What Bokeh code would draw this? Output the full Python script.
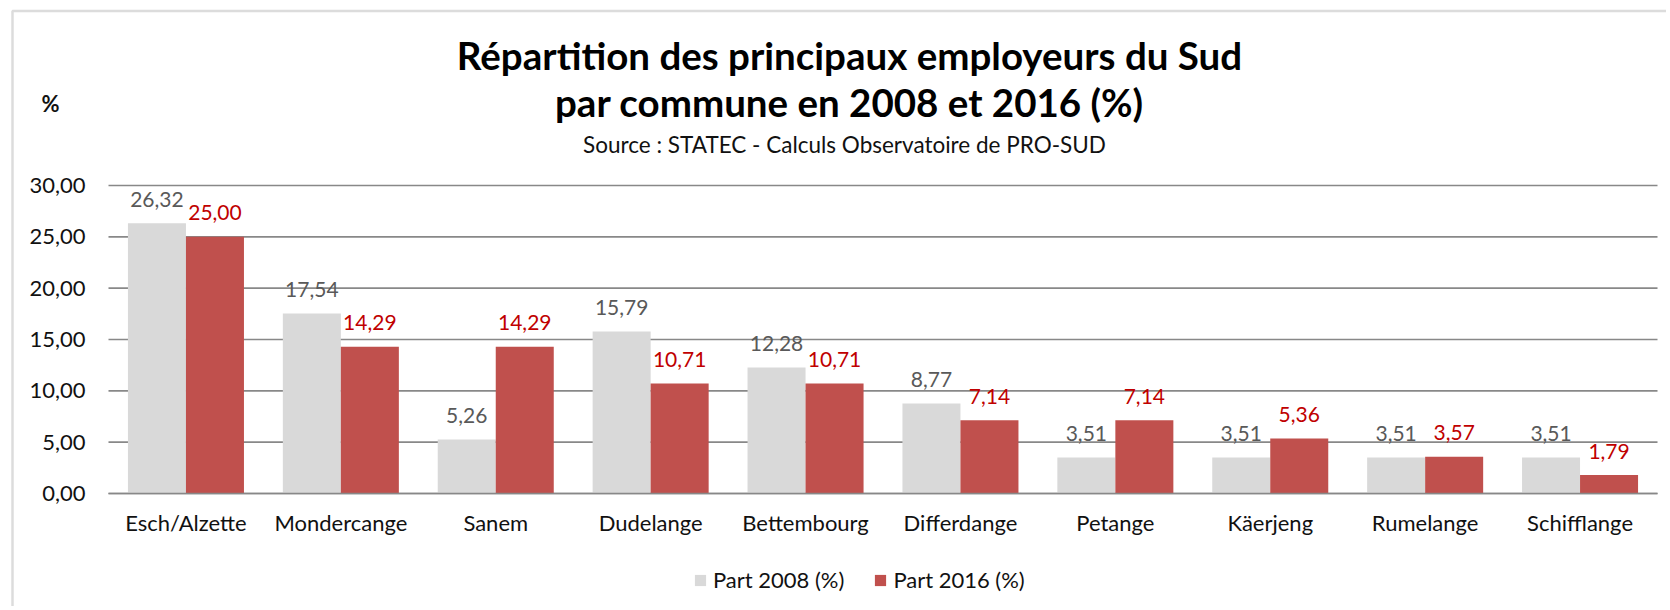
from bokeh.plotting import figure
from bokeh.models import (ColumnDataSource, Range1d, LabelSet, Label, LinearAxis,
                          Legend, LegendItem, FixedTicker, BoxAnnotation)
from bokeh.core.properties import value
from bokeh.transform import dodge
from bokeh.embed import file_html
from bokeh.resources import INLINE

communes = ["Esch/Alzette", "Mondercange", "Sanem", "Dudelange", "Bettembourg",
            "Differdange", "Petange", "Käerjeng", "Rumelange", "Schifflange"]
part_2008 = [26.32, 17.54, 5.26, 15.79, 12.28, 8.77, 3.51, 3.51, 3.51, 3.51]
part_2016 = [25.00, 14.29, 14.29, 10.71, 10.71, 7.14, 7.14, 5.36, 3.57, 1.79]
y_ticks = [0, 5, 10, 15, 20, 25, 30]
y_tick_labels = ["0,00", "5,00", "10,00", "15,00", "20,00", "25,00", "30,00"]
series_names = ["Part 2008 (%)", "Part 2016 (%)"]
title_line1 = "Répartition des principaux employeurs du Sud"
title_line2 = "par commune en 2008 et 2016 (%)"
subtitle = "Source : STATEC - Calculs Observatoire de PRO-SUD"
unit_label = "%"

FONT = "Lato"
GRAY = "#d9d9d9"
RED = "#c0504d"
GRID = "#888888"


def fmt(v):
    return f"{v:.2f}".replace(".", ",")


n = len(communes)
idx = list(range(n))
src = ColumnDataSource(dict(
    idx=idx,
    v08=part_2008,
    v16=part_2016,
    l08=[fmt(v) for v in part_2008],
    l16=[fmt(v) for v in part_2016],
))

# ---- layout (canvas pixels) ----
W, H = 1666, 606
PLOT_L, PLOT_R = 108, 1657          # category band in pixels
Y0_PX, YTOP_PX = 493, 185           # pixel rows of value 0 and of the top tick
cat_w = (PLOT_R - PLOT_L) / n
y_top = y_ticks[-1]
px_per_unit = (Y0_PX - YTOP_PX) / y_top

x_start = -0.5 - PLOT_L / cat_w
x_end = n - 0.5 + (W - PLOT_R) / cat_w
y_start = -(H - Y0_PX) / px_per_unit
y_end = y_top + YTOP_PX / px_per_unit

p = figure(width=W, height=H, output_backend="svg", toolbar_location=None,
           x_range=Range1d(x_start, x_end), y_range=Range1d(y_start, y_end),
           x_axis_type=None, y_axis_type=None,
           min_border=0, min_border_left=0, min_border_right=0,
           min_border_top=0, min_border_bottom=0)
p.title.visible = False
p.outline_line_color = None
p.background_fill_color = "white"
p.border_fill_color = "white"
p.xgrid.visible = False
p.ygrid.visible = False

# horizontal gridlines over the category band only, behind the bars
p.segment(x0=-0.5, x1=n - 0.5, y0=y_ticks, y1=y_ticks,
          line_color=GRID, line_width=1.7)

bw = 0.3745
off = bw / 2
r08 = p.vbar(x=dodge("idx", -off), top="v08", width=bw, source=src,
             fill_color=GRAY, line_color=None)
r16 = p.vbar(x=dodge("idx", off), top="v16", width=bw, source=src,
             fill_color=RED, line_color=None)

p.add_layout(LabelSet(x=dodge("idx", -off), y="v08", text="l08", source=src,
                      text_align="center", text_baseline="middle", y_offset=24,
                      text_font=value(FONT), text_font_size=value("21px"),
                      text_color=value("#595959")))
p.add_layout(LabelSet(x=dodge("idx", off), y="v16", text="l16", source=src,
                      text_align="center", text_baseline="middle", y_offset=24,
                      text_font=value(FONT), text_font_size=value("21px"),
                      text_color=value("#c00000")))

# axes placed at data locations inside the frame
xaxis = LinearAxis(ticker=FixedTicker(ticks=idx),
                   major_label_overrides={i: c for i, c in zip(idx, communes)},
                   fixed_location=0, bounds=(-0.5, n - 0.5))
xaxis.axis_line_color = GRID
xaxis.axis_line_width = 1.7
xaxis.major_tick_line_color = None
xaxis.minor_tick_line_color = None
xaxis.major_tick_in = 0
xaxis.major_tick_out = 0
xaxis.major_label_standoff = 15
xaxis.major_label_text_font = FONT
xaxis.major_label_text_font_size = "22px"
xaxis.major_label_text_color = "#111111"
p.add_layout(xaxis, "below")

yaxis = LinearAxis(ticker=FixedTicker(ticks=y_ticks),
                   major_label_overrides={t: l for t, l in zip(y_ticks, y_tick_labels)},
                   fixed_location=-0.5, bounds=(0, y_top))
yaxis.axis_line_color = None
yaxis.major_tick_line_color = None
yaxis.minor_tick_line_color = None
yaxis.major_tick_in = 0
yaxis.major_tick_out = 0
yaxis.major_label_standoff = 23
yaxis.major_label_text_font = FONT
yaxis.major_label_text_font_size = "22px"
yaxis.major_label_text_color = "#111111"
p.add_layout(yaxis, "left")

# titles (screen units: x from left, y up from bottom of the frame = canvas)
TCX = 849
p.add_layout(Label(x=TCX, y=H - 54.5, x_units="screen", y_units="screen",
                   text=title_line1, text_align="center", text_baseline="middle",
                   text_font=FONT, text_font_style="bold", text_font_size="38.5px",
                   text_color="#000000"))
p.add_layout(Label(x=TCX, y=H - 101, x_units="screen", y_units="screen",
                   text=title_line2, text_align="center", text_baseline="middle",
                   text_font=FONT, text_font_style="bold", text_font_size="38.5px",
                   text_color="#000000"))
p.add_layout(Label(x=TCX - 5, y=H - 144, x_units="screen", y_units="screen",
                   text=subtitle, text_align="center", text_baseline="middle",
                   text_font=FONT, text_font_size="22.5px", text_color="#111111"))
p.add_layout(Label(x=50, y=H - 102.5, x_units="screen", y_units="screen",
                   text=unit_label, text_align="center", text_baseline="middle",
                   text_font=FONT, text_font_style="bold", text_font_size="22px",
                   text_color="#111111"))

# outer chart frame (only its top and left edges fall inside the picture)
p.add_layout(BoxAnnotation(left=12, right=5000, top=H - 10.5, bottom=-1000,
                           left_units="screen", right_units="screen",
                           top_units="screen", bottom_units="screen",
                           fill_color=None, fill_alpha=0, line_color="#8c8c8c",
                           line_width=2.5, level="overlay"))

legend = Legend(items=[LegendItem(label=series_names[0], renderers=[r08]),
                       LegendItem(label=series_names[1], renderers=[r16])],
                orientation="horizontal", location=(693, H - 593),
                glyph_width=14, glyph_height=14, label_standoff=6, spacing=29,
                padding=0, margin=0, border_line_color=None,
                background_fill_alpha=0, label_text_font=FONT,
                label_text_font_size="22px", label_text_color="#111111")
p.add_layout(legend, "center")

open("out.html", "w").write(file_html(p, INLINE))
